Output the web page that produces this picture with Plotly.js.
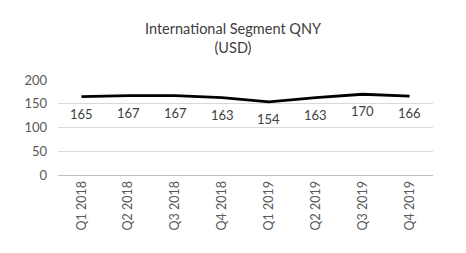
<!DOCTYPE html>
<html><head><meta charset="utf-8">
<script src="https://cdn.plot.ly/plotly-3.0.1.min.js"></script>
<style>html,body{margin:0;padding:0;background:#fff}#c{width:466px;height:253px}</style>
</head><body><div id="c"></div>
<script>
const categories = ["Q1 2018","Q2 2018","Q3 2018","Q4 2018","Q1 2019","Q2 2019","Q3 2019","Q4 2019"];
const values = [165,167,167,163,154,163,170,166];
const yTicks = [0,50,100,150,200];

const trace = {
  x: categories, y: values, type: 'scatter', mode: 'lines',
  line: {color: '#000000', width: 2.8},
  hoverinfo: 'none'
};
const labels = categories.map((c, i) => ({
  x: c, y: values[i], xref: 'x', yref: 'y', text: String(values[i]),
  showarrow: false, yshift: -17,
  font: {family: 'Lato, sans-serif', size: 13, color: '#404040'}
}));
const layout = {
  width: 466, height: 253,
  margin: {l: 58, r: 33, t: 80, b: 78},
  paper_bgcolor: '#ffffff', plot_bgcolor: '#ffffff',
  showlegend: false,
  annotations: labels,
  title: {text: 'International Segment QNY<br>(USD)', x: 0.5, xanchor: 'center', y: 0.865, yanchor: 'top',
    font: {family: 'Lato, sans-serif', size: 14.5, color: '#404040'}},
  xaxis: {type: 'category', tickangle: -90, showgrid: false, showline: true, linecolor: '#bfbfbf', linewidth: 1,
    ticks: '', tickfont: {family: 'Lato, sans-serif', size: 12.5, color: '#595959'}, range: [-0.5, 7.5], fixedrange: true},
  yaxis: {range: [0, 200], tickvals: yTicks, ticktext: yTicks.map(String), showgrid: true, gridcolor: '#d9d9d9', gridwidth: 1,
    zeroline: false, showline: false, ticks: '', ticklabelstandoff: 10,
    tickfont: {family: 'Lato, sans-serif', size: 13, color: '#595959'}, fixedrange: true}
};
Plotly.newPlot('c', [trace], layout, {staticPlot: true, displayModeBar: false});
</script></body></html>
